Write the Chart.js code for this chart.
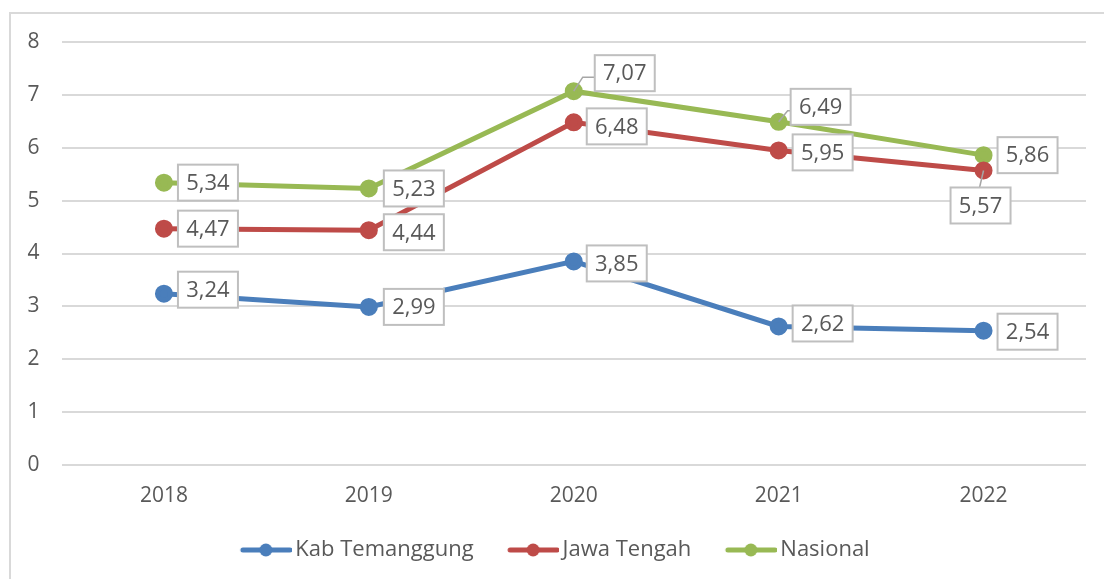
<!DOCTYPE html>
<html>
<head>
<meta charset="utf-8">
<script src="https://cdn.jsdelivr.net/npm/chart.js@4.4.1/dist/chart.umd.min.js"></script>
<style>
  html, body { margin: 0; padding: 0; background: #fff; }
  #wrap { width: 1104px; height: 579px; position: relative; }
</style>
</head>
<body>
<div id="wrap"><canvas id="chart" width="1104" height="579"></canvas></div>
<script>
// Data
const years = ["2018", "2019", "2020", "2021", "2022"];
const kabTemanggung = [3.24, 2.99, 3.85, 2.62, 2.54];
const jawaTengah = [4.47, 4.44, 6.48, 5.95, 5.57];
const nasional = [5.34, 5.23, 7.07, 6.49, 5.86];
const yTicks = [0, 1, 2, 3, 4, 5, 6, 7, 8];

// where each label box sits relative to its point (px), and whether it has a leader line
const labelShift = [
  [[44, -4], [45, 0], [43, 2], [44, -3], [44, 1]],
  [[44, 0], [45, 2], [43, 4], [44, 2], [-3, 35, true]],
  [[44, 0], [45, 0], [51, -18, true], [42, -15, true], [44, 0]]
];

const grey = "#595959";
const font = "'Open Sans', 'Noto Sans', sans-serif";

// legend marker: line with a dot, with some empty room on the left for spacing
function legendIcon(color) {
  const c = document.createElement("canvas");
  c.width = 73; c.height = 14;
  const g = c.getContext("2d");
  g.strokeStyle = color;
  g.lineWidth = 5;
  g.lineCap = "round";
  g.beginPath(); g.moveTo(24, 7); g.lineTo(71, 7); g.stroke();
  g.fillStyle = color;
  g.beginPath(); g.arc(47, 7, 6.5, 0, Math.PI * 2); g.fill();
  return c;
}

const frame = {
  id: "frame",
  beforeDraw(chart) {
    const g = chart.ctx;
    g.save();
    g.strokeStyle = "#d9d9d9";
    g.lineWidth = 2;
    g.beginPath();
    g.moveTo(10, 579); g.lineTo(10, 13); g.lineTo(1104, 13);
    g.stroke();
    g.restore();
  }
};

const boxLabels = {
  id: "boxLabels",
  afterDatasetsDraw(chart) {
    const g = chart.ctx;
    g.save();
    g.font = "22px " + font;
    g.textAlign = "center";
    g.textBaseline = "middle";
    chart.data.datasets.forEach((ds, di) => {
      chart.getDatasetMeta(di).data.forEach((pt, i) => {
        const s = labelShift[di][i];
        const cx = pt.x + s[0], cy = pt.y + s[1];
        const w = 60, h = 36;
        if (s[2]) {
          g.strokeStyle = "#a6a6a6";
          g.lineWidth = 1.5;
          g.beginPath();
          g.moveTo(pt.x, pt.y);
          if (s[1] < 0) {
            g.lineTo(pt.x + 9, cy + 4);
            g.lineTo(cx - w / 2, cy + 4);
          } else {
            g.lineTo(pt.x - 4, cy - h / 2);
          }
          g.stroke();
        }
        g.fillStyle = "#fff";
        g.fillRect(cx - w / 2, cy - h / 2, w, h);
        g.strokeStyle = "#bfbfbf";
        g.lineWidth = 2;
        g.strokeRect(cx - w / 2, cy - h / 2, w, h);
        g.fillStyle = grey;
        g.fillText(ds.data[i].toFixed(2).replace(".", ","), cx, cy + 1);
      });
    });
    g.restore();
  }
};

const series = [
  { label: "Kab Temanggung", data: kabTemanggung, color: "#4a7ebb" },
  { label: "Jawa Tengah", data: jawaTengah, color: "#be4b48" },
  { label: "Nasional", data: nasional, color: "#98b954" }
];
const icons = series.map(s => legendIcon(s.color));

new Chart(document.getElementById("chart"), {
  type: "line",
  data: {
    labels: years,
    datasets: series.map(s => ({
      label: s.label,
      data: s.data,
      borderColor: s.color,
      backgroundColor: s.color,
      pointBackgroundColor: s.color,
      pointBorderColor: s.color,
      borderWidth: 5,
      pointRadius: 6.5,
      pointStyle: "circle",
      tension: 0
    }))
  },
  options: {
    responsive: false,
    animation: false,
    layout: { padding: { left: 10, right: 18, top: 42, bottom: 8 } },
    plugins: {
      tooltip: { enabled: false },
      legend: {
        position: "bottom",
        labels: {
          usePointStyle: true,
          pointStyleWidth: 58,
          color: grey,
          font: { family: font, size: 22 },
          padding: 20,
          generateLabels(chart) {
            const items = Chart.defaults.plugins.legend.labels.generateLabels(chart);
            items.forEach((it, i) => { it.pointStyle = icons[i]; });
            return items;
          }
        }
      }
    },
    scales: {
      x: {
        offset: true,
        grid: { display: false, drawTicks: false },
        border: { display: false },
        ticks: { color: grey, font: { family: font, size: 21 }, padding: 18 },
        afterFit(scale) { scale.height = 54; }
      },
      y: {
        min: 0,
        max: 8,
        afterBuildTicks(scale) { scale.ticks = yTicks.map(v => ({ value: v })); },
        grid: { color: "#d9d9d9", lineWidth: 2, drawTicks: false },
        border: { display: false },
        ticks: { color: grey, font: { family: font, size: 21 }, padding: 22 },
        afterFit(scale) { scale.width = 51.5; }
      }
    }
  },
  plugins: [frame, boxLabels]
});
</script>
</body>
</html>
